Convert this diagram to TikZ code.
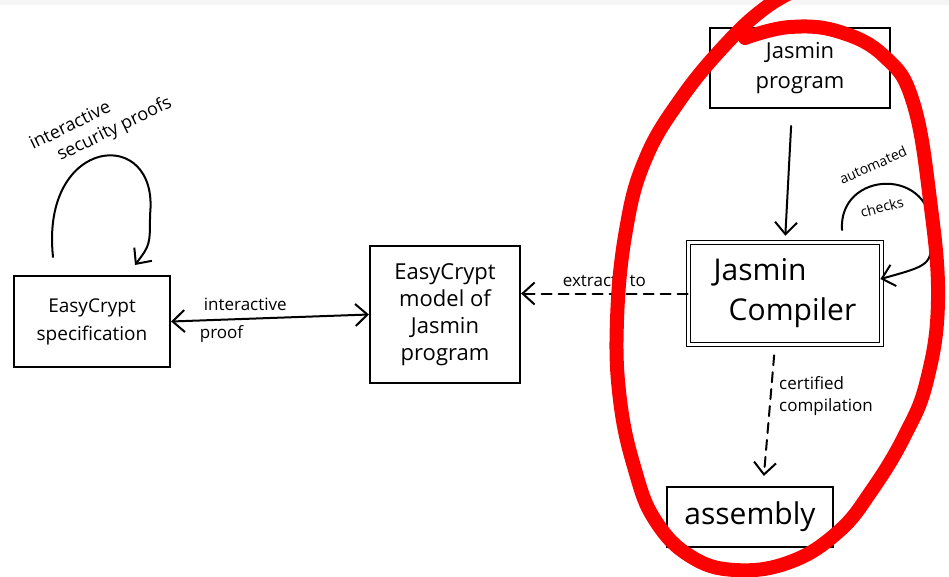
\documentclass[tikz,border=0pt]{standalone}
\usepackage{fontspec}
\setmainfont{Open Sans}
\usetikzlibrary{arrows.meta,calc}
\begin{document}
\begin{tikzpicture}[x=1pt,y=-1pt,
  box/.style={draw=black,line width=2.2pt,inner sep=0pt,align=center},
  lbl/.style={inner sep=0pt,font=\fontsize{17}{22}\selectfont},
  conn/.style={line width=2pt,line cap=round},
  vtip/.tip={Straight Barb[length=12pt,width=22pt,line width=2pt]},
  tipv/.style={-vtip},
  dash9/.style={dash pattern=on 10pt off 7pt},
  redloop/.style={draw=red,line width=14pt,line cap=round,line join=round}]
\useasboundingbox (0,0) rectangle (949,576);
\clip (0,0) rectangle (949,576);
\fill[gray!8] (0,0) rectangle (949,5);

% boxes
\node[box,minimum width=156pt,minimum height=91pt,font=\fontsize{19}{28}\selectfont] (spec) at (92,321.5) {EasyCrypt\\specification};
\node[box,minimum width=150pt,minimum height=137pt,font=\fontsize{22}{27}\selectfont] (model) at (445,314.5) {EasyCrypt\\model of\\Jasmin\\program};
\node[box,minimum width=180pt,minimum height=80pt,font=\fontsize{22}{30}\selectfont] (prog) at (800,68) {Jasmin\\program};
\node[box,double,double distance=2.5pt,line width=1.6pt,align=left,minimum width=193pt,minimum height=102pt,font=\fontsize{30}{40}\selectfont] (comp) at (785,293.5) {Jasmin\\\hspace*{15pt}Compiler};
\node[box,minimum width=166pt,minimum height=60pt,font=\fontsize{30}{36}\selectfont] (asm) at (750,517) {assembly};

% connectors
\draw[conn,vtip-vtip] (spec.east) -- (model.west)
  node[lbl,pos=0.375,above=7pt] (lia) {interactive}
  node[lbl,pos=0.255,below=5pt] (lpr) {proof};
\draw[conn,tipv,dash9] (comp.west) -- (model.east |- comp.west)
  node[lbl,midway,above=6pt] (lex) {extracts to};
\draw[conn,tipv,shorten <=17pt,shorten >=6pt] ([xshift=-8pt]prog.south) -- (comp.north);
\draw[conn,tipv,dash9,shorten <=10pt,shorten >=10pt] ([xshift=-10pt]comp.south) -- ([xshift=13pt]asm.north);
\node[lbl,anchor=west,align=left] (lcc) at (779,396) {certified\\compilation};

% self loops
\coordinate (a1) at (53,257);
\coordinate (a2) at (135,265);
\draw[conn,tipv] (a1) .. controls (40,135) and (160,125) .. (150,215) .. controls (150,245) .. (a2);
\node[lbl,font=\fontsize{18}{22}\selectfont,rotate=26,anchor=north west,align=left] (isp) at (27,138) {interactive\\\hspace*{20pt}security proofs};

\coordinate (b1) at (842,230);
\draw[conn,tipv,shorten >=-2pt] (b1) .. controls (838,170) and (935,165) .. (932,235) .. controls (931,265) .. ([yshift=15pt]comp.east);
\node[lbl,font=\fontsize{14}{16}\selectfont,rotate=24] (lau) at (873,165) {automated};
\node[lbl,font=\fontsize{14}{16}\selectfont,rotate=15] (lch) at (882,207) {checks};

% red highlight
\draw[redloop] plot[smooth,tension=0.7] coordinates {(745,38) (790,27) (840,32) (885,57) (913,102) (930,200) (938,300) (927,380) (905,435) (872,490) (838,532) (790,562) (735,570) (690,556) (655,520) (635,470) (620,400) (617,320) (626,230) (645,160) (680,100) (725,45) (765,8) (800,-12)};
\end{tikzpicture}
\end{document}
